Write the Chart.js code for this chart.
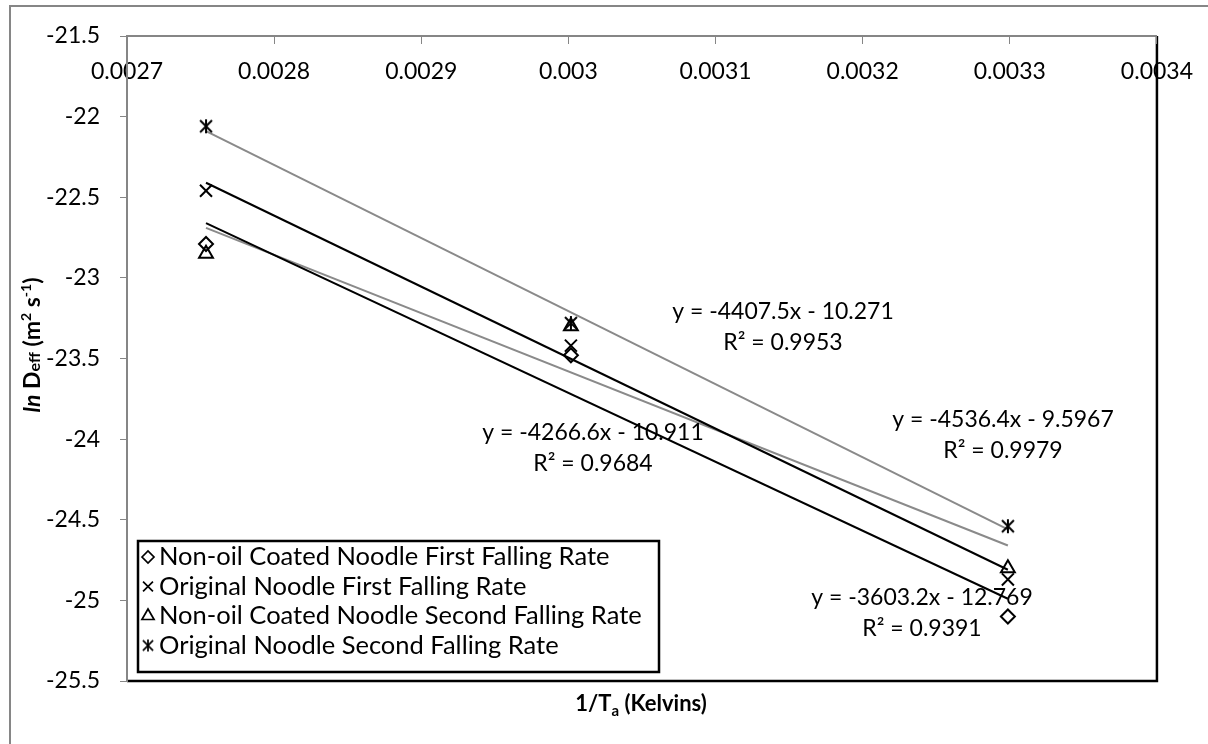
<!DOCTYPE html>
<html>
<head>
<meta charset="utf-8">
<script src="https://cdn.jsdelivr.net/npm/chart.js@4.4.0/dist/chart.umd.min.js"></script>
<style>
html, body { margin: 0; padding: 0; background: #fff; }
</style>
</head>
<body>
<canvas id="chart" width="1208" height="744"></canvas>
<script>
// 1/T values (90, 60 and 30 degC) and ln Deff
var xValues = [0.0027537, 0.0030017, 0.0032987];
var nonOilFirst = [-22.79, -23.48, -25.10];
var originalFirst = [-22.46, -23.42, -24.87];
var nonOilSecond = [-22.85, -23.30, -24.80];
var originalSecond = [-22.06, -23.28, -24.54];

// trend line end points
var trendX = [0.0027537, 0.0032987];
var nonOilFirstTrend = [-22.66, -24.99];
var originalFirstTrend = [-22.41, -24.81];
var nonOilSecondTrend = [-22.69, -24.66];
var originalSecondTrend = [-22.09, -24.56];

var seriesNames = [
	"Non-oil Coated Noodle First Falling Rate",
	"Original Noodle First Falling Rate",
	"Non-oil Coated Noodle Second Falling Rate",
	"Original Noodle Second Falling Rate"
];

var xTickLabels = ["0.0027", "0.0028", "0.0029", "0.003", "0.0031", "0.0032", "0.0033", "0.0034"];
var yTickLabels = ["-25.5", "-25", "-24.5", "-24", "-23.5", "-23", "-22.5", "-22", "-21.5"];

// equation labels: [equation, r squared]
var trendLabels = [
	["y = -4407.5x - 10.271", "R\u00b2 = 0.9953"],
	["y = -4266.6x - 10.911", "R\u00b2 = 0.9684"],
	["y = -4536.4x - 9.5967", "R\u00b2 = 0.9979"],
	["y = -3603.2x - 12.769", "R\u00b2 = 0.9391"]
];
var trendLabelPos = [[783, 312], [593, 433], [1003, 420], [922, 598]];

var FONT = "Lato, 'Open Sans', sans-serif";
var AXIS_GRAY = "#868686";
var TREND_GRAY = "#8a8a8a";

function makeAsterisk(size, lw) {
	var c = document.createElement("canvas");
	c.width = size;
	c.height = size;
	var g = c.getContext("2d");
	var m = size / 2, r = size / 2 - 1;
	g.strokeStyle = "#000";
	g.lineWidth = lw;
	g.beginPath();
	g.moveTo(m - r * 0.85, m - r * 0.85);
	g.lineTo(m + r * 0.85, m + r * 0.85);
	g.moveTo(m + r * 0.85, m - r * 0.85);
	g.lineTo(m - r * 0.85, m + r * 0.85);
	g.moveTo(m, m - r);
	g.lineTo(m, m + r);
	g.stroke();
	return c;
}

var asterisk = makeAsterisk(16, 2);
var asteriskSmall = makeAsterisk(14, 1.7);

function points(xs, ys) {
	return ys.map(function (y, i) { return { x: xs[i], y: y }; });
}

function markerSet(label, ys, style, radius) {
	return {
		label: label,
		data: points(xValues, ys),
		pointStyle: style,
		pointRadius: radius,
		pointHoverRadius: radius,
		pointBorderColor: "#000",
		pointBackgroundColor: "rgba(0,0,0,0)",
		pointBorderWidth: 2,
		showLine: false
	};
}

function trendSet(ys, color) {
	return {
		label: "trend",
		data: points(trendX, ys),
		showLine: true,
		borderColor: color,
		borderWidth: 2,
		pointRadius: 0,
		fill: false
	};
}

var markerStyles = [
	{ style: "rectRot", radius: 7 },
	{ style: "crossRot", radius: 8.5 },
	{ style: "triangle", radius: 8 },
	{ style: asterisk, radius: 8 }
];

function richText(ctx, parts, x, y, align) {
	var total = 0;
	parts.forEach(function (p) { ctx.font = p[1]; total += ctx.measureText(p[0]).width; });
	var cx = align === "center" ? x - total / 2 : x;
	parts.forEach(function (p) {
		ctx.font = p[1];
		ctx.fillText(p[0], cx, y + (p[2] || 0));
		cx += ctx.measureText(p[0]).width;
	});
}

function drawMarker(ctx, i, x, y) {
	ctx.save();
	if (i === 3) {
		ctx.drawImage(asteriskSmall, x - asteriskSmall.width / 2, y - asteriskSmall.height / 2);
	} else {
		ctx.strokeStyle = "#000";
		ctx.lineWidth = 1.7;
		ctx.fillStyle = "rgba(0,0,0,0)";
		Chart.helpers.drawPoint(ctx, { pointStyle: markerStyles[i].style, radius: i === 0 ? 6 : 7, rotation: 0, borderWidth: 1.7 }, x, y);
	}
	ctx.restore();
}

var decorations = {
	id: "decorations",
	beforeDraw: function (chart) {
		var ctx = chart.ctx;
		var a = chart.chartArea;
		ctx.save();
		ctx.fillStyle = "#fff";
		ctx.fillRect(0, 0, chart.width, chart.height);
		ctx.strokeStyle = AXIS_GRAY;
		ctx.lineWidth = 2;
		ctx.strokeRect(10, 6, chart.width + 20, chart.height + 20);
		ctx.strokeStyle = "#000";
		ctx.lineWidth = 2.5;
		ctx.beginPath();
		ctx.moveTo(a.left, a.bottom);
		ctx.lineTo(a.right, a.bottom);
		ctx.lineTo(a.right, a.top);
		ctx.stroke();
		ctx.restore();
	},
	afterDraw: function (chart) {
		var ctx = chart.ctx;
		ctx.save();
		ctx.fillStyle = "#000";
		ctx.textBaseline = "middle";

		// equation labels
		ctx.font = "23px " + FONT;
		ctx.textAlign = "center";
		trendLabels.forEach(function (t, i) {
			ctx.fillText(t[0], trendLabelPos[i][0], trendLabelPos[i][1]);
			ctx.fillText(t[1], trendLabelPos[i][0], trendLabelPos[i][1] + 31);
		});

		// legend box
		var lx = 138, ly = 541, lw = 521, lh = 131;
		ctx.fillStyle = "#fff";
		ctx.fillRect(lx, ly, lw, lh);
		ctx.strokeStyle = "#000";
		ctx.lineWidth = 2.5;
		ctx.strokeRect(lx, ly, lw, lh);
		ctx.textAlign = "left";
		seriesNames.forEach(function (name, i) {
			var y = 557 + i * 29.5;
			drawMarker(ctx, i, 148, y);
			ctx.fillStyle = "#000";
			ctx.font = "25.5px " + FONT;
			ctx.fillText(name, 159, y);
		});

		// x title
		ctx.fillStyle = "#000";
		ctx.textBaseline = "alphabetic";
		var b = "bold 22px " + FONT;
		var bs = "bold 15px " + FONT;
		richText(ctx, [["1/T", b], ["a", bs, 5], [" (Kelvins)", b]], 641, 711, "center");

		// y title
		ctx.translate(40, 345);
		ctx.rotate(-Math.PI / 2);
		richText(ctx, [
			["ln", "italic bold 23px " + FONT],
			[" D", "bold 23px " + FONT],
			["eff", "bold 16px " + FONT],
			[" (m", "bold 23px " + FONT],
			["2", "bold 14px " + FONT, -9],
			[" s", "bold 23px " + FONT],
			["-1", "bold 14px " + FONT, -9],
			[")", "bold 23px " + FONT]
		], 0, 0, "center");
		ctx.restore();
	}
};

var datasets = [];
[nonOilFirst, originalFirst, nonOilSecond, originalSecond].forEach(function (ys, i) {
	datasets.push(markerSet(seriesNames[i], ys, markerStyles[i].style, markerStyles[i].radius));
});
datasets.push(trendSet(nonOilFirstTrend, "#000"));
datasets.push(trendSet(originalFirstTrend, "#000"));
datasets.push(trendSet(nonOilSecondTrend, TREND_GRAY));
datasets.push(trendSet(originalSecondTrend, TREND_GRAY));

Chart.defaults.font.family = FONT;
Chart.defaults.color = "#000";

var chart = new Chart(document.getElementById("chart").getContext("2d"), {
	type: "scatter",
	data: { datasets: datasets },
	options: {
		responsive: false,
		devicePixelRatio: 1,
		animation: false,
		events: [],
		layout: { padding: { left: 0, top: 36, right: 51, bottom: 63 } },
		plugins: {
			legend: { display: false },
			tooltip: { enabled: false }
		},
		scales: {
			x: {
				type: "linear",
				position: { y: -21.5 },
				min: 0.0027,
				max: 0.0034,
				ticks: {
					stepSize: 0.0001,
					autoSkip: false,
					maxRotation: 0,
					padding: 15,
					font: { size: 23 },
					callback: function (v, i) { return xTickLabels[i]; }
				},
				grid: { drawOnChartArea: false, drawTicks: true, tickLength: 7, color: AXIS_GRAY },
				border: { color: AXIS_GRAY, width: 2 }
			},
			y: {
				type: "linear",
				position: "left",
				min: -25.5,
				max: -21.5,
				afterFit: function (s) { s.width = 127; },
				ticks: {
					stepSize: 0.5,
					padding: 20,
					font: { size: 23 },
					callback: function (v, i) { return yTickLabels[i]; }
				},
				grid: { drawOnChartArea: false, drawTicks: true, tickLength: 7, color: AXIS_GRAY },
				border: { color: AXIS_GRAY, width: 2 }
			}
		}
	},
	plugins: [decorations]
});
</script>
</body>
</html>
